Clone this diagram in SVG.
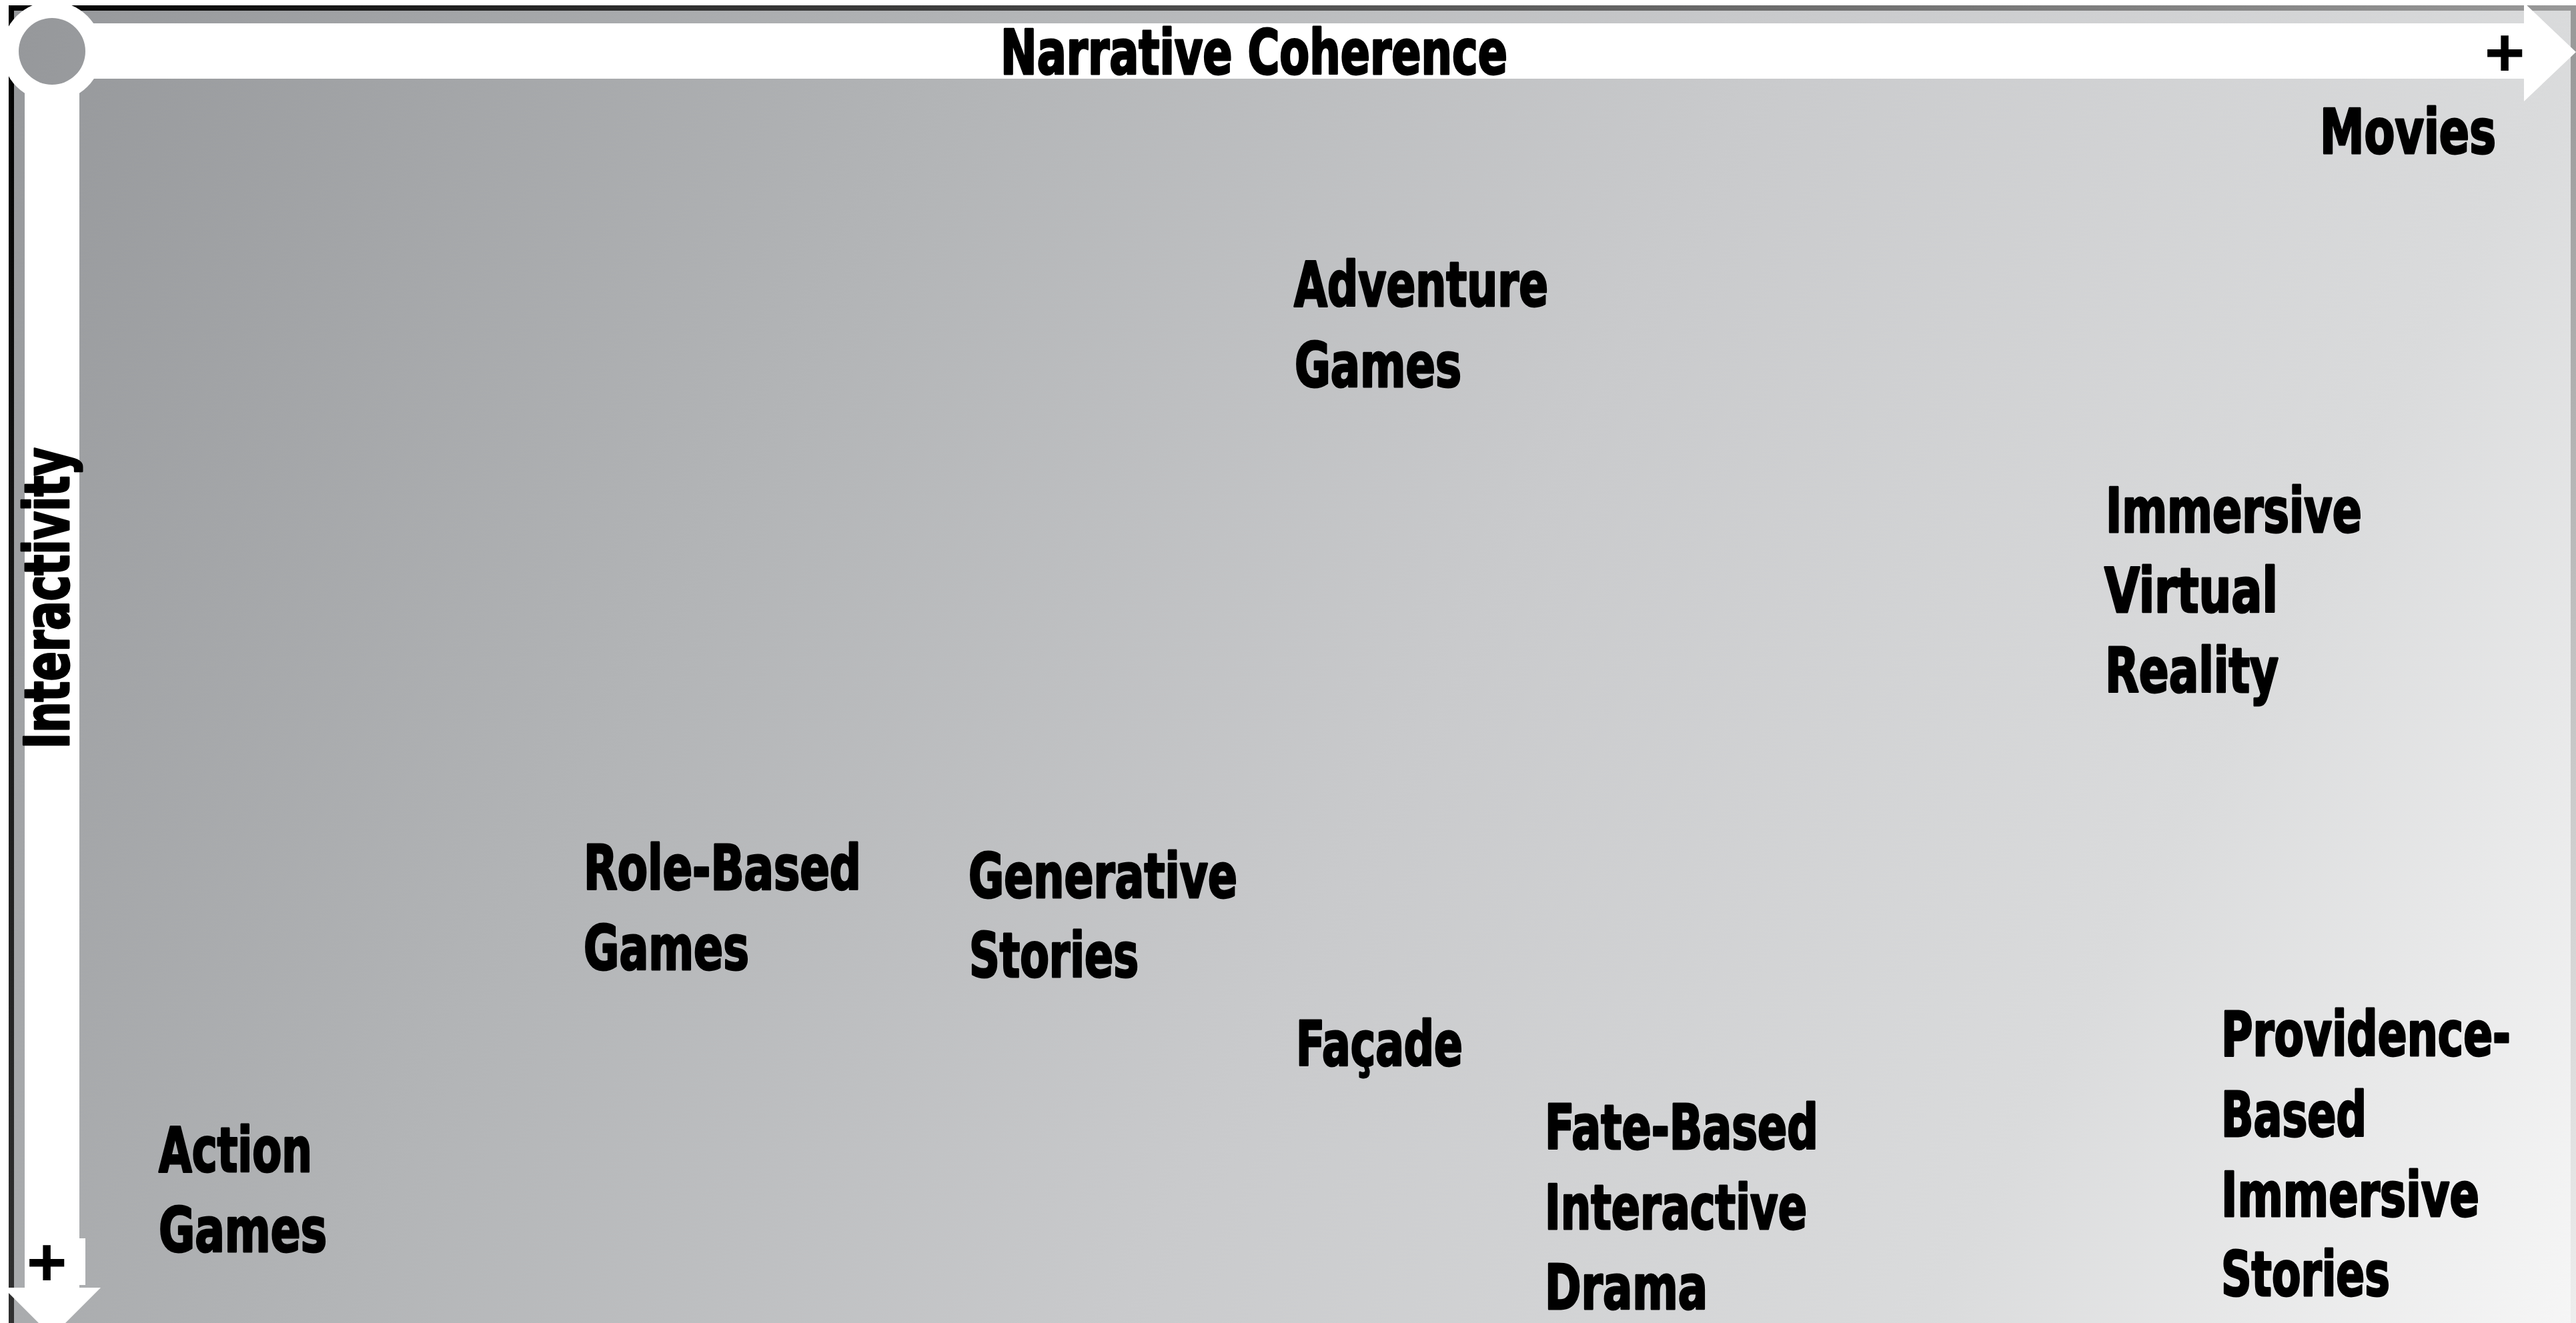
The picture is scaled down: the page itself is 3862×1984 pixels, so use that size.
<svg xmlns="http://www.w3.org/2000/svg" width="3862" height="1984" viewBox="0 0 3862 1984">
  <defs>
    <linearGradient id="bgGrad" gradientUnits="userSpaceOnUse" x1="0" y1="0" x2="3862" y2="1984">
      <stop offset="0" stop-color="#95979a"/>
      <stop offset="0.3" stop-color="#b2b4b6"/>
      <stop offset="0.55" stop-color="#c9cacc"/>
      <stop offset="0.8" stop-color="#dadbdc"/>
      <stop offset="1" stop-color="#f6f6f6"/>
    </linearGradient>
    <linearGradient id="borderGrad" gradientUnits="userSpaceOnUse" x1="0" y1="0" x2="3862" y2="1984">
      <stop offset="0" stop-color="#000000"/>
      <stop offset="0.2" stop-color="#2e2e2e"/>
      <stop offset="0.8" stop-color="#9a9a9a"/>
      <stop offset="1" stop-color="#eeeeee"/>
    </linearGradient>
  </defs>
  <style>
    .lbl { font-family: "Liberation Sans Narrow", "DejaVu Sans Condensed", "Liberation Sans", "DejaVu Sans", sans-serif; font-weight: bold; font-size: 93px; fill: #000000; stroke: #000000; stroke-width: 3px; stroke-linejoin: round; }
    .axis { font-family: "Liberation Sans Narrow", "DejaVu Sans Condensed", "Liberation Sans", "DejaVu Sans", sans-serif; font-weight: bold; font-size: 92px; fill: #000000; stroke: #000000; stroke-width: 3px; stroke-linejoin: round; }
    .plus { font-family: "Liberation Sans", "DejaVu Sans", sans-serif; font-weight: bold; font-size: 104px; fill: #000000; text-anchor: middle; }
    .bar { fill: #ffffff; }
  </style>

  <g id="background">
    <rect x="17" y="12" width="3841" height="2100" fill="url(#bgGrad)" stroke="url(#borderGrad)" stroke-width="8"/>
  </g>

  <g id="connectors">
    <g id="axis-narrative">
      <rect class="bar" x="78" y="35" width="3707" height="83"/>
      <polygon class="bar" points="3784,4 3862,78 3784,152"/>
    </g>
    <g id="axis-interactivity">
      <rect class="bar" x="37" y="77" width="82" height="1855"/>
      <rect class="bar" x="37" y="1857" width="91" height="70"/>
      <polygon class="bar" points="5,1931 151,1931 78,2004"/>
    </g>
    <g id="origin">
      <circle cx="78" cy="77" r="75" fill="#ffffff"/>
      <circle cx="78" cy="77" r="50" fill="url(#bgGrad)"/>
    </g>
  </g>

  <g id="axis-labels">
    <g id="label-narrative-coherence">
      <text class="axis" x="1500" y="111" textLength="760" lengthAdjust="spacingAndGlyphs">Narrative Coherence</text>
      <text class="plus" x="3755" y="114">+</text>
    </g>
    <g id="label-interactivity">
      <text class="axis" transform="translate(103,1123) rotate(-90)" x="0" y="0" textLength="452" lengthAdjust="spacingAndGlyphs">Interactivity</text>
      <text class="plus" x="70" y="1928">+</text>
    </g>
  </g>

  <g id="node-movies">
    <text class="lbl" x="3478" y="230" textLength="264" lengthAdjust="spacingAndGlyphs">Movies</text>
  </g>
  <g id="node-adventure-games">
    <text class="lbl" x="1940" y="459" textLength="381" lengthAdjust="spacingAndGlyphs">Adventure</text>
    <text class="lbl" x="1941" y="580" textLength="250" lengthAdjust="spacingAndGlyphs">Games</text>
  </g>
  <g id="node-immersive-virtual-reality">
    <text class="lbl" x="3157" y="798" textLength="384" lengthAdjust="spacingAndGlyphs">Immersive</text>
    <text class="lbl" x="3155" y="918" textLength="260" lengthAdjust="spacingAndGlyphs">Virtual</text>
    <text class="lbl" x="3156" y="1038" textLength="260" lengthAdjust="spacingAndGlyphs">Reality</text>
  </g>
  <g id="node-role-based-games">
    <text class="lbl" x="875" y="1334" textLength="416" lengthAdjust="spacingAndGlyphs">Role-Based</text>
    <text class="lbl" x="875" y="1454" textLength="248" lengthAdjust="spacingAndGlyphs">Games</text>
  </g>
  <g id="node-generative-stories">
    <text class="lbl" x="1452" y="1346" textLength="403" lengthAdjust="spacingAndGlyphs">Generative</text>
    <text class="lbl" x="1453" y="1465" textLength="254" lengthAdjust="spacingAndGlyphs">Stories</text>
  </g>
  <g id="node-facade">
    <text class="lbl" x="1943" y="1598" textLength="250" lengthAdjust="spacingAndGlyphs">Façade</text>
  </g>
  <g id="node-fate-based-interactive-drama">
    <text class="lbl" x="2316" y="1723" textLength="410" lengthAdjust="spacingAndGlyphs">Fate-Based</text>
    <text class="lbl" x="2316" y="1843" textLength="393" lengthAdjust="spacingAndGlyphs">Interactive</text>
    <text class="lbl" x="2316" y="1963" textLength="244" lengthAdjust="spacingAndGlyphs">Drama</text>
  </g>
  <g id="node-providence-based-immersive-stories">
    <text class="lbl" x="3330" y="1583" textLength="434" lengthAdjust="spacingAndGlyphs">Providence-</text>
    <text class="lbl" x="3330" y="1704" textLength="218" lengthAdjust="spacingAndGlyphs">Based</text>
    <text class="lbl" x="3330" y="1824" textLength="387" lengthAdjust="spacingAndGlyphs">Immersive</text>
    <text class="lbl" x="3330" y="1943" textLength="253" lengthAdjust="spacingAndGlyphs">Stories</text>
  </g>
  <g id="node-action-games">
    <text class="lbl" x="238" y="1757" textLength="230" lengthAdjust="spacingAndGlyphs">Action</text>
    <text class="lbl" x="238" y="1877" textLength="252" lengthAdjust="spacingAndGlyphs">Games</text>
  </g>
</svg>
